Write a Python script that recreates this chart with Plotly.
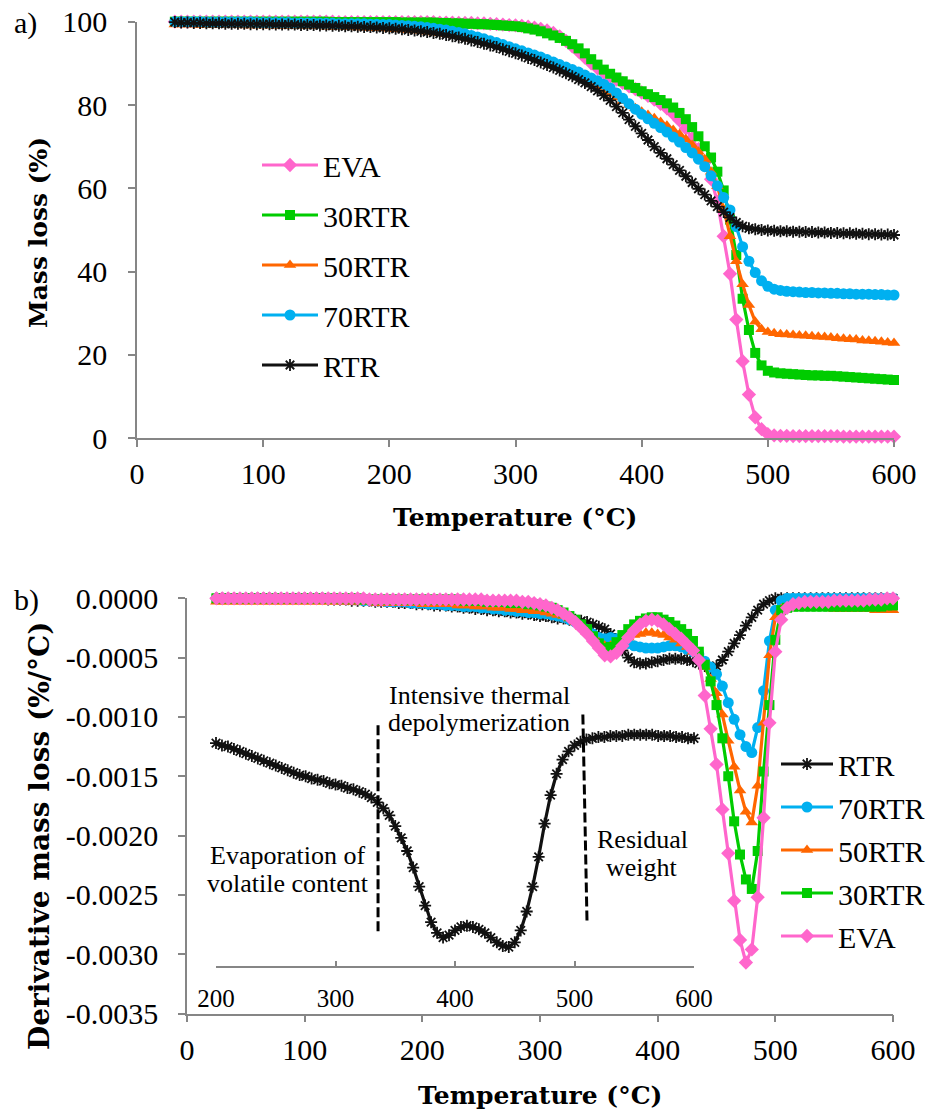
import plotly.graph_objects as go

W, H = 926, 1113

# ---------------- TGA (mass loss, %) ----------------
TEMP_TGA = list(range(30, 601, 5))

TGA_EVA = [
    100.0, 100.0, 100.0, 100.0, 100.0, 100.0, 100.0, 100.0, 100.0, 100.0,
    100.0, 100.0, 100.0, 100.0, 100.0, 100.0, 100.0, 100.0, 100.0, 100.0,
    100.0, 100.0, 100.0, 100.0, 100.0, 100.0, 99.9, 99.9, 99.9, 99.9,
    99.9, 99.9, 99.9, 99.9, 99.9, 99.9, 99.9, 99.9, 99.9, 99.9,
    99.9, 99.9, 99.8, 99.8, 99.8, 99.7, 99.7, 99.7, 99.6, 99.6,
    99.5, 99.4, 99.3, 99.2, 99.1, 99.0, 98.8, 98.6, 98.3, 97.9,
    97.3, 96.5, 95.4, 94.1, 92.8, 91.4, 90.0, 88.8, 87.8, 86.9,
    86.1, 85.3, 84.5, 83.8, 83.0, 82.2, 81.3, 80.3, 79.2, 77.9,
    76.3, 74.4, 72.0, 69.4, 66.2, 62.2, 56.8, 48.5, 39.5, 28.5,
    18.5, 10.5, 5.0, 2.2, 1.0, 0.7, 0.6, 0.6, 0.5, 0.5,
    0.5, 0.5, 0.5, 0.5, 0.5, 0.5, 0.4, 0.4, 0.4, 0.4,
    0.4, 0.4, 0.4, 0.4, 0.4,
]
TGA_30RTR = [
    100.0, 100.0, 100.0, 100.0, 100.0, 100.0, 100.0, 100.0, 100.0, 100.0,
    100.0, 100.0, 100.0, 100.0, 100.0, 100.0, 100.0, 100.0, 100.0, 100.0,
    100.0, 100.0, 100.0, 100.0, 100.0, 99.9, 99.9, 99.9, 99.9, 99.9,
    99.9, 99.9, 99.9, 99.9, 99.9, 99.9, 99.8, 99.8, 99.8, 99.8,
    99.8, 99.8, 99.7, 99.7, 99.6, 99.6, 99.5, 99.5, 99.4, 99.4,
    99.3, 99.2, 99.1, 99.0, 98.9, 98.7, 98.4, 98.1, 97.7, 97.2,
    96.7, 96.1, 95.4, 94.6, 93.6, 92.4, 91.0, 89.7, 88.5, 87.5,
    86.6, 85.7, 84.9, 84.1, 83.3, 82.6, 81.9, 81.2, 80.4, 79.4,
    78.1, 76.6, 74.7, 72.5, 70.1, 67.4, 64.0, 59.5, 52.5, 44.0,
    33.5, 26.0, 20.5, 17.5, 16.2, 15.8, 15.6, 15.5, 15.4, 15.3,
    15.2, 15.1, 15.1, 15.0, 15.0, 14.9, 14.8, 14.7, 14.6, 14.5,
    14.4, 14.3, 14.2, 14.1, 14.0,
]
TGA_50RTR = [
    99.3, 99.3, 99.3, 99.3, 99.2, 99.2, 99.2, 99.2, 99.2, 99.2,
    99.2, 99.1, 99.1, 99.1, 99.1, 99.1, 99.0, 99.0, 99.0, 99.0,
    99.0, 98.9, 98.9, 98.9, 98.8, 98.8, 98.8, 98.7, 98.7, 98.6,
    98.6, 98.5, 98.5, 98.4, 98.3, 98.2, 98.1, 98.0, 97.9, 97.8,
    97.6, 97.4, 97.2, 97.0, 96.8, 96.5, 96.2, 95.9, 95.6, 95.2,
    94.8, 94.4, 94.0, 93.5, 93.0, 92.5, 92.0, 91.5, 90.9, 90.3,
    89.7, 89.1, 88.4, 87.7, 87.0, 86.2, 85.4, 84.5, 83.6, 82.7,
    81.8, 80.9, 80.0, 79.2, 78.4, 77.6, 76.8, 75.9, 75.0, 74.0,
    73.0, 71.8, 70.4, 68.8, 67.0, 64.0, 60.5, 55.0, 48.5, 42.5,
    37.0, 32.0, 28.0, 26.2, 25.5, 25.2, 25.0, 24.9, 24.8, 24.7,
    24.6, 24.5, 24.4, 24.3, 24.2, 24.0, 23.9, 23.8, 23.7, 23.5,
    23.4, 23.3, 23.2, 23.0, 22.9,
]
TGA_70RTR = [
    100.0, 100.0, 100.0, 100.0, 100.0, 99.9, 99.9, 99.9, 99.9, 99.9,
    99.9, 99.9, 99.9, 99.8, 99.8, 99.8, 99.8, 99.8, 99.8, 99.7,
    99.7, 99.7, 99.7, 99.6, 99.6, 99.6, 99.5, 99.5, 99.5, 99.5,
    99.5, 99.4, 99.4, 99.3, 99.3, 99.2, 99.1, 99.0, 98.9, 98.8,
    98.6, 98.4, 98.2, 98.0, 97.7, 97.4, 97.1, 96.7, 96.3, 95.9,
    95.4, 95.0, 94.5, 94.0, 93.5, 93.0, 92.5, 92.0, 91.5, 90.9,
    90.3, 89.7, 89.1, 88.5, 87.9, 87.2, 86.5, 85.8, 85.0, 84.1,
    82.9, 81.6, 80.3, 79.0, 77.8, 76.7, 75.6, 74.6, 73.5, 72.3,
    71.1, 69.8, 68.5, 67.0, 65.2, 63.0, 60.6, 57.8, 54.8, 50.8,
    46.0, 42.5, 39.8, 37.8, 36.5, 35.8, 35.5, 35.3, 35.2, 35.1,
    35.0, 35.0, 34.9, 34.9, 34.8, 34.8, 34.7, 34.7, 34.6, 34.6,
    34.6, 34.5, 34.5, 34.4, 34.4,
]
TGA_RTR = [
    99.9, 99.8, 99.8, 99.7, 99.7, 99.6, 99.6, 99.6, 99.5, 99.5,
    99.5, 99.5, 99.4, 99.4, 99.4, 99.4, 99.3, 99.3, 99.3, 99.3,
    99.2, 99.2, 99.2, 99.1, 99.1, 99.0, 99.0, 98.9, 98.9, 98.8,
    98.7, 98.7, 98.6, 98.5, 98.4, 98.3, 98.2, 98.0, 97.9, 97.7,
    97.5, 97.3, 97.1, 96.8, 96.5, 96.2, 95.9, 95.5, 95.1, 94.7,
    94.3, 93.9, 93.4, 92.9, 92.4, 91.9, 91.3, 90.8, 90.2, 89.6,
    89.0, 88.3, 87.6, 86.9, 86.1, 85.3, 84.4, 83.4, 82.3, 81.1,
    79.6, 78.1, 76.5, 74.9, 73.2, 71.6, 70.0, 68.5, 67.1, 65.7,
    64.3, 62.9, 61.4, 59.9, 58.5, 57.0, 55.6, 54.3, 53.0, 51.8,
    50.9, 50.4, 50.2, 50.0, 49.9, 49.8, 49.7, 49.7, 49.6, 49.6,
    49.5, 49.5, 49.4, 49.4, 49.3, 49.3, 49.2, 49.2, 49.1, 49.1,
    49.0, 49.0, 48.9, 48.9, 48.8,
]

# ---------------- DTG (derivative mass loss, %/°C) ----------------
TEMP_DTG = list(range(25, 601, 5))

DTG_RTR = [
    0.00000, 0.00000, 0.00000, 0.00000, 0.00000, 0.00000, 0.00000, 0.00000, 0.00000, 0.00000,
    0.00000, 0.00000, 0.00000, 0.00000, 0.00000, 0.00000, 0.00000, 0.00000, 0.00000, -0.00001,
    -0.00001, -0.00001, -0.00001, -0.00002, -0.00002, -0.00002, -0.00002, -0.00003, -0.00003, -0.00003,
    -0.00003, -0.00004, -0.00004, -0.00004, -0.00005, -0.00005, -0.00005, -0.00006, -0.00006, -0.00006,
    -0.00007, -0.00007, -0.00008, -0.00008, -0.00009, -0.00009, -0.00010, -0.00010, -0.00011, -0.00011,
    -0.00012, -0.00012, -0.00013, -0.00013, -0.00014, -0.00015, -0.00015, -0.00016, -0.00017, -0.00017,
    -0.00018, -0.00018, -0.00019, -0.00020, -0.00022, -0.00024, -0.00026, -0.00030, -0.00037, -0.00044,
    -0.00050, -0.00054, -0.00055, -0.00055, -0.00054, -0.00053, -0.00052, -0.00051, -0.00051, -0.00051,
    -0.00052, -0.00053, -0.00055, -0.00057, -0.00059, -0.00057, -0.00052, -0.00045, -0.00038, -0.00031,
    -0.00023, -0.00016, -0.00010, -0.00005, -0.00002, 0.00000, 0.00000, 0.00000, 0.00000, 0.00000,
    0.00000, 0.00000, 0.00000, 0.00000, 0.00000, 0.00000, 0.00000, 0.00000, 0.00000, 0.00000,
    0.00000, 0.00000, 0.00000, 0.00000, 0.00000, 0.00000,
]
DTG_70RTR = [
    0.00000, 0.00000, 0.00000, 0.00000, 0.00000, 0.00000, 0.00000, 0.00000, 0.00000, 0.00000,
    0.00000, 0.00000, 0.00000, 0.00000, 0.00000, 0.00000, 0.00000, 0.00000, 0.00000, 0.00000,
    0.00000, -0.00001, -0.00001, -0.00001, -0.00001, -0.00002, -0.00002, -0.00002, -0.00002, -0.00003,
    -0.00003, -0.00003, -0.00003, -0.00004, -0.00004, -0.00004, -0.00005, -0.00005, -0.00005, -0.00006,
    -0.00006, -0.00006, -0.00007, -0.00007, -0.00007, -0.00008, -0.00008, -0.00009, -0.00009, -0.00010,
    -0.00010, -0.00011, -0.00011, -0.00012, -0.00012, -0.00013, -0.00013, -0.00014, -0.00015, -0.00016,
    -0.00018, -0.00020, -0.00023, -0.00026, -0.00030, -0.00033, -0.00034, -0.00033, -0.00034, -0.00036,
    -0.00038, -0.00040, -0.00041, -0.00042, -0.00042, -0.00042, -0.00041, -0.00040, -0.00040, -0.00041,
    -0.00043, -0.00045, -0.00047, -0.00053, -0.00058, -0.00064, -0.00074, -0.00088, -0.00102, -0.00115,
    -0.00125, -0.00130, -0.00109, -0.00078, -0.00036, -0.00010, -0.00002, 0.00000, 0.00000, 0.00000,
    0.00000, 0.00000, 0.00000, 0.00000, 0.00000, 0.00000, 0.00000, 0.00000, 0.00000, 0.00000,
    0.00000, 0.00000, 0.00000, 0.00000, 0.00000, 0.00000,
]
DTG_50RTR = [
    -0.00003, -0.00003, -0.00003, -0.00003, -0.00003, -0.00003, -0.00003, -0.00003, -0.00003, -0.00003,
    -0.00003, -0.00003, -0.00003, -0.00003, -0.00003, -0.00003, -0.00003, -0.00003, -0.00003, -0.00003,
    -0.00003, -0.00003, -0.00003, -0.00003, -0.00003, -0.00003, -0.00003, -0.00004, -0.00004, -0.00004,
    -0.00004, -0.00004, -0.00004, -0.00004, -0.00004, -0.00005, -0.00005, -0.00005, -0.00005, -0.00005,
    -0.00005, -0.00006, -0.00006, -0.00006, -0.00007, -0.00007, -0.00007, -0.00008, -0.00008, -0.00008,
    -0.00009, -0.00009, -0.00010, -0.00010, -0.00011, -0.00011, -0.00012, -0.00013, -0.00014, -0.00015,
    -0.00017, -0.00020, -0.00024, -0.00028, -0.00033, -0.00037, -0.00040, -0.00040, -0.00038, -0.00035,
    -0.00033, -0.00031, -0.00030, -0.00029, -0.00029, -0.00030, -0.00031, -0.00033, -0.00035, -0.00038,
    -0.00041, -0.00045, -0.00050, -0.00058, -0.00068, -0.00080, -0.00098, -0.00120, -0.00142, -0.00162,
    -0.00180, -0.00189, -0.00158, -0.00105, -0.00048, -0.00016, -0.00009, -0.00008, -0.00008, -0.00008,
    -0.00008, -0.00008, -0.00008, -0.00008, -0.00008, -0.00009, -0.00009, -0.00009, -0.00009, -0.00009,
    -0.00009, -0.00009, -0.00010, -0.00010, -0.00010, -0.00010,
]
DTG_30RTR = [
    0.00000, 0.00000, 0.00000, 0.00000, 0.00000, 0.00000, 0.00000, 0.00000, 0.00000, 0.00000,
    0.00000, 0.00000, 0.00000, 0.00000, 0.00000, 0.00000, 0.00000, 0.00000, 0.00000, 0.00000,
    0.00000, 0.00000, 0.00000, 0.00000, 0.00000, -0.00001, -0.00001, -0.00001, -0.00001, -0.00001,
    -0.00001, -0.00001, -0.00001, -0.00001, -0.00001, -0.00001, -0.00001, -0.00001, -0.00001, -0.00001,
    -0.00001, -0.00001, -0.00002, -0.00002, -0.00002, -0.00002, -0.00003, -0.00003, -0.00003, -0.00003,
    -0.00004, -0.00004, -0.00004, -0.00005, -0.00005, -0.00006, -0.00007, -0.00008, -0.00010, -0.00012,
    -0.00015, -0.00018, -0.00022, -0.00026, -0.00032, -0.00038, -0.00042, -0.00041, -0.00037, -0.00031,
    -0.00026, -0.00022, -0.00019, -0.00017, -0.00016, -0.00016, -0.00018, -0.00020, -0.00023, -0.00026,
    -0.00030, -0.00036, -0.00045, -0.00056, -0.00070, -0.00090, -0.00118, -0.00150, -0.00188, -0.00216,
    -0.00237, -0.00245, -0.00213, -0.00146, -0.00090, -0.00035, -0.00010, -0.00008, -0.00007, -0.00007,
    -0.00007, -0.00007, -0.00007, -0.00007, -0.00007, -0.00007, -0.00007, -0.00007, -0.00007, -0.00007,
    -0.00007, -0.00007, -0.00007, -0.00007, -0.00006, -0.00006,
]
DTG_EVA = [
    0.00000, 0.00000, 0.00000, 0.00000, 0.00000, 0.00000, 0.00000, 0.00000, 0.00000, 0.00000,
    0.00000, 0.00000, 0.00000, 0.00000, 0.00000, 0.00000, 0.00000, 0.00000, 0.00000, 0.00000,
    0.00000, 0.00000, 0.00000, 0.00000, 0.00000, 0.00000, -0.00001, -0.00001, -0.00001, -0.00001,
    -0.00001, -0.00001, -0.00001, -0.00001, -0.00001, -0.00001, -0.00001, -0.00001, -0.00001, -0.00001,
    -0.00001, -0.00001, -0.00001, -0.00001, -0.00001, -0.00001, -0.00002, -0.00002, -0.00002, -0.00002,
    -0.00002, -0.00002, -0.00003, -0.00003, -0.00004, -0.00005, -0.00006, -0.00008, -0.00010, -0.00013,
    -0.00016, -0.00020, -0.00025, -0.00030, -0.00036, -0.00042, -0.00048, -0.00049, -0.00046, -0.00040,
    -0.00033, -0.00027, -0.00022, -0.00019, -0.00018, -0.00019, -0.00022, -0.00026, -0.00030, -0.00034,
    -0.00039, -0.00044, -0.00052, -0.00082, -0.00110, -0.00140, -0.00178, -0.00215, -0.00255, -0.00288,
    -0.00307, -0.00296, -0.00252, -0.00185, -0.00105, -0.00045, -0.00018, -0.00008, -0.00005, -0.00004,
    -0.00003, -0.00003, -0.00003, -0.00003, -0.00003, -0.00002, -0.00002, -0.00002, -0.00002, -0.00002,
    -0.00002, -0.00001, -0.00001, -0.00001, 0.00000, 0.00000,
]

# RTR DTG on an expanded scale (inset, 200-600 °C)
TEMP_INSET = list(range(200, 601, 5))
DTG_RTR_INSET = [
    -0.00122, -0.00124, -0.00125, -0.00127, -0.00129, -0.00131, -0.00133, -0.00135, -0.00137, -0.00139,
    -0.00141, -0.00143, -0.00145, -0.00147, -0.00149, -0.00150, -0.00152, -0.00153, -0.00154, -0.00156,
    -0.00157, -0.00158, -0.00160, -0.00161, -0.00163, -0.00165, -0.00168, -0.00172, -0.00177, -0.00183,
    -0.00192, -0.00202, -0.00213, -0.00227, -0.00243, -0.00259, -0.00273, -0.00282, -0.00286, -0.00284,
    -0.00280, -0.00277, -0.00276, -0.00277, -0.00279, -0.00282, -0.00286, -0.00290, -0.00293, -0.00294,
    -0.00290, -0.00280, -0.00264, -0.00243, -0.00218, -0.00190, -0.00166, -0.00148, -0.00136, -0.00129,
    -0.00124, -0.00121, -0.00119, -0.00118, -0.00117, -0.00117, -0.00116, -0.00116, -0.00116, -0.00115,
    -0.00115, -0.00115, -0.00115, -0.00115, -0.00116, -0.00116, -0.00116, -0.00117, -0.00117, -0.00118,
    -0.00118,
]

DTG_TICKS = [0.0, -0.0005, -0.0010, -0.0015, -0.0020, -0.0025, -0.0030, -0.0035]
DTG_TICKTEXT = [f"{v:.4f}" if v != 0 else "0.0000" for v in DTG_TICKS]

# boundaries between the three RTR degradation stages (inset coordinates)
STAGE_LINES = [
    dict(x0=335.6, x1=335.6, y0=-0.00107, y1=-0.00283),
    dict(x0=507.0, x1=510.5, y0=-0.00098, y1=-0.00274),
]

PINK, GREEN, ORANGE, BLUE, BLACK = "#FF66CC", "#00CC00", "#FF6600", "#00B0F0", "#111111"
STYLE = {
    "EVA": dict(color=PINK, symbol="diamond", size=11),
    "30RTR": dict(color=GREEN, symbol="square", size=10),
    "50RTR": dict(color=ORANGE, symbol="triangle-up", size=11),
    "70RTR": dict(color=BLUE, symbol="circle", size=11),
    "RTR": dict(color=BLACK, symbol="asterisk-open", size=10),
}

TICK_FONT = dict(family="Liberation Serif", size=30, color="black")
TITLE_FONT = dict(family="DejaVu Serif", size=25, color="black")
DTG_TITLE_FONT = dict(family="DejaVu Serif", size=28, color="black")
NOTE_FONT = dict(family="Liberation Serif", size=26, color="black")
AXIS_GRAY = "#868686"


def add_series(fig, name, x, y, xaxis, yaxis, legend, showlegend=True):
    st = STYLE[name]
    marker = dict(symbol=st["symbol"], size=st["size"], color=st["color"])
    if st["symbol"].endswith("-open"):
        marker["line"] = dict(color=st["color"], width=1.8)
    fig.add_trace(go.Scatter(
        x=x, y=y, name=name, mode="lines+markers",
        line=dict(color=st["color"], width=3.2),
        marker=marker, xaxis=xaxis, yaxis=yaxis,
        legend=legend, legendgroup=legend + name, showlegend=showlegend,
        cliponaxis=False,
    ))


fig = go.Figure()

# panel a) – TGA
for nm, ys in [("EVA", TGA_EVA), ("30RTR", TGA_30RTR), ("50RTR", TGA_50RTR),
               ("70RTR", TGA_70RTR), ("RTR", TGA_RTR)]:
    add_series(fig, nm, TEMP_TGA, ys, "x", "y", "legend")

# panel b) – DTG
for nm, ys in [("RTR", DTG_RTR), ("70RTR", DTG_70RTR), ("50RTR", DTG_50RTR),
               ("30RTR", DTG_30RTR), ("EVA", DTG_EVA)]:
    add_series(fig, nm, TEMP_DTG, ys, "x2", "y2", "legend2")

# inset – expanded RTR DTG
add_series(fig, "RTR", TEMP_INSET, DTG_RTR_INSET, "x3", "y2", "legend2", showlegend=False)


def px_x(p):
    return p / W


def px_y(p):
    return 1 - p / H


common_axis = dict(
    showline=True, linecolor=AXIS_GRAY, linewidth=1.6, mirror=False,
    ticks="outside", ticklen=7, tickwidth=1.6, tickcolor=AXIS_GRAY,
    showgrid=False, zeroline=False, tickfont=TICK_FONT,
)

fig.update_layout(
    width=W, height=H,
    margin=dict(l=0, r=0, t=0, b=0, autoexpand=False),
    paper_bgcolor="white", plot_bgcolor="rgba(0,0,0,0)",
    xaxis=dict(domain=[px_x(137), px_x(894)], range=[0, 600], dtick=100,
               anchor="y", ticklabelstandoff=1, **common_axis),
    yaxis=dict(domain=[px_y(438.3), px_y(21.7)], range=[0, 100], dtick=20,
               anchor="x", ticklabelstandoff=15, **common_axis),
    xaxis2=dict(domain=[px_x(187), px_x(893)], range=[0, 600], dtick=100,
                anchor="y2", ticklabelstandoff=2, **common_axis),
    yaxis2=dict(domain=[px_y(1013.5), px_y(598.3)], range=[-0.0035, 0],
                tickvals=DTG_TICKS, ticktext=DTG_TICKTEXT,
                anchor="x2", ticklabelstandoff=14, **common_axis),
    xaxis3=dict(domain=[px_x(216), px_x(694)], range=[200, 600], dtick=100,
                anchor="free", position=px_y(966.7),
                showline=True, linecolor=AXIS_GRAY, linewidth=1.6,
                ticks="inside", ticklen=5, tickwidth=1.6, tickcolor=AXIS_GRAY,
                showgrid=False, zeroline=False, ticklabelstandoff=9,
                tickfont=dict(family="Liberation Serif", size=25, color="black")),
    legend=dict(x=px_x(257), y=px_y(139), xanchor="left", yanchor="top",
                font=dict(family="Liberation Serif", size=30, color="black"),
                bgcolor="rgba(0,0,0,0)", tracegroupgap=8, itemwidth=56,
                itemclick=False),
    legend2=dict(x=px_x(776), y=px_y(738), xanchor="left", yanchor="top",
                 font=dict(family="Liberation Serif", size=30, color="black"),
                 bgcolor="rgba(0,0,0,0)", tracegroupgap=1, itemwidth=52,
                 itemclick=False),
    showlegend=True,
)

for ln in STAGE_LINES:
    fig.add_shape(type="line", xref="x3", yref="y2", **ln,
                  line=dict(color="black", width=3, dash="10px,4px"))

notes = [
    ("a)", 12, 23, "left", TICK_FONT, 0),
    ("b)", 12, 600, "left", TICK_FONT, 0),
    ("Intensive thermal", 479, 695, "center", NOTE_FONT, 0),
    ("depolymerization", 479, 722, "center", NOTE_FONT, 0),
    ("Evaporation of", 288, 855, "center", NOTE_FONT, 0),
    ("volatile content", 288, 883, "center", NOTE_FONT, 0),
    ("Residual", 642, 839, "center", NOTE_FONT, 0),
    ("weight", 642, 867, "center", NOTE_FONT, 0),
    ("<b>Temperature (°C)</b>", 515, 517, "center", TITLE_FONT, 0),
    ("<b>Temperature (°C)</b>", 540, 1095, "center", TITLE_FONT, 0),
    ("<b>Mass loss (%)</b>", 39, 233, "center", TITLE_FONT, -90),
    ("<b>Derivative mass loss (%/°C)</b>", 39, 836, "center", DTG_TITLE_FONT, -90),
]
for text, x, y, xa, font, ang in notes:
    fig.add_annotation(text=text, x=px_x(x), y=px_y(y), xref="paper", yref="paper",
                       xanchor=xa, yanchor="middle", showarrow=False,
                       font=font, textangle=ang)

fig.write_html("out.html")
